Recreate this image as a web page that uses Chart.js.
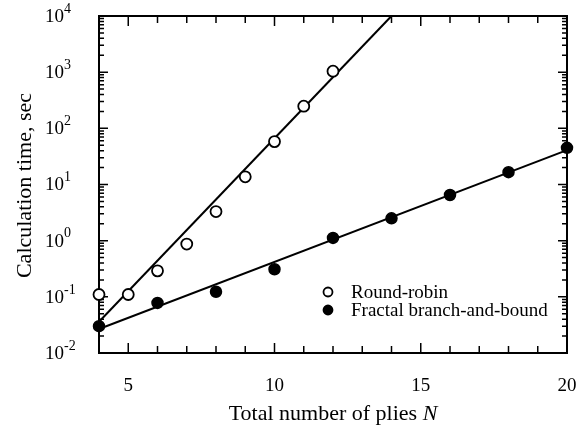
<!DOCTYPE html>
<html><head><meta charset="utf-8">
<script src="https://cdn.jsdelivr.net/npm/chart.js@4.4.0/dist/chart.umd.min.js"></script>
<style>html,body{margin:0;padding:0;background:#fff;}#wrap{width:588px;height:439px;}</style>
</head><body><div id="wrap"><canvas id="c" width="588" height="439"></canvas></div>
<script>
const rrN = [4, 5, 6, 7, 8, 9, 10, 11, 12];
const rrTime = [0.11, 0.11, 0.29, 0.87, 3.3, 13.7, 58, 248, 1040];
const fbN = [4, 6, 8, 10, 12, 14, 16, 18, 20];
const fbTime = [0.030, 0.078, 0.123, 0.31, 1.12, 2.5, 6.5, 16.6, 45];
const rrFitN = [4, 14];
const rrFitTime = [0.036, 10000];
const fbFitN = [4, 20];
const fbFitTime = [0.0267, 41];
const xTickLabels = ['5', '10', '15', '20'];
const yTickExponents = ['-2', '-1', '0', '1', '2', '3', '4'];
const seriesLabels = ['Round-robin', 'Fractal branch-and-bound'];
const xTitle = 'Total number of plies ';
const xTitleVar = 'N';
const yTitle = 'Calculation time, sec';

const FONT = '"Liberation Serif", "Times New Roman", serif';
const pts = (xs, ys) => xs.map((x, i) => ({x: x, y: ys[i]}));

const decorPlugin = {
  id: 'decor',
  beforeDatasetsDraw(chart) {
    const ctx = chart.ctx, a = chart.chartArea;
    const xs = chart.scales.x, ys = chart.scales.y;
    ctx.save();
    ctx.strokeStyle = '#000';
    ctx.lineWidth = 1.5;
    for (let d = -2; d <= 4; d++) {
      const base = Math.pow(10, d);
      const py = ys.getPixelForValue(base);
      ctx.beginPath();
      ctx.moveTo(a.left, py); ctx.lineTo(a.left + 9, py);
      ctx.moveTo(a.right, py); ctx.lineTo(a.right - 9, py);
      ctx.stroke();
      if (d < 4) {
        for (let k = 2; k <= 9; k++) {
          const p = ys.getPixelForValue(k * base);
          ctx.beginPath();
          ctx.moveTo(a.left, p); ctx.lineTo(a.left + 5, p);
          ctx.moveTo(a.right, p); ctx.lineTo(a.right - 5, p);
          ctx.stroke();
        }
      }
    }
    for (let n = Math.ceil(xs.min); n <= xs.max; n++) {
      const px = xs.getPixelForValue(n);
      const len = (n % 5 === 0) ? 10 : 7;
      ctx.beginPath();
      ctx.moveTo(px, a.bottom); ctx.lineTo(px, a.bottom - len);
      ctx.moveTo(px, a.top); ctx.lineTo(px, a.top + len);
      ctx.stroke();
    }
    ctx.lineWidth = 2;
    ctx.strokeRect(a.left, a.top, a.right - a.left, a.bottom - a.top);
    ctx.fillStyle = '#000';
    ctx.textAlign = 'left';
    yTickExponents.forEach(e => {
      const py = ys.getPixelForValue(Math.pow(10, parseInt(e, 10)));
      ctx.font = '19px ' + FONT;
      ctx.textBaseline = 'middle';
      ctx.fillText('10', 45, py + 1);
      const w = ctx.measureText('10').width;
      ctx.font = '14px ' + FONT;
      ctx.fillText(e, 45 + w, py - 7);
    });
    ctx.save();
    ctx.translate(25, (a.top + a.bottom) / 2 + 1);
    ctx.rotate(-Math.PI / 2);
    ctx.font = '22px ' + FONT;
    ctx.textAlign = 'center';
    ctx.textBaseline = 'middle';
    ctx.fillText(yTitle, 0, 0);
    ctx.restore();
    ctx.font = '22px ' + FONT;
    const w1 = ctx.measureText(xTitle).width;
    ctx.font = 'italic 22px ' + FONT;
    const w2 = ctx.measureText(xTitleVar).width;
    const cx = (a.left + a.right) / 2;
    const sx = cx - (w1 + w2) / 2;
    ctx.textBaseline = 'alphabetic';
    ctx.textAlign = 'left';
    ctx.font = '22px ' + FONT;
    ctx.fillText(xTitle, sx, 420);
    ctx.font = 'italic 22px ' + FONT;
    ctx.fillText(xTitleVar, sx + w1, 420);
    const ds = chart.data.datasets;
    [0, 1].forEach(i => {
      const ly = 292 + i * 18;
      ctx.beginPath();
      ctx.arc(328, ly, 4.5, 0, Math.PI * 2);
      ctx.fillStyle = ds[i].pointBackgroundColor;
      ctx.fill();
      ctx.lineWidth = 1.8;
      ctx.strokeStyle = '#000';
      ctx.stroke();
      ctx.fillStyle = '#000';
      ctx.font = '19px ' + FONT;
      ctx.textBaseline = 'middle';
      ctx.fillText(seriesLabels[i], 351, ly + 1);
    });
    ctx.restore();
  }
};

new Chart(document.getElementById('c'), {
  type: 'scatter',
  data: {
    datasets: [
      {label: seriesLabels[0], data: pts(rrN, rrTime), pointRadius: 5.5, pointBorderWidth: 1.8,
       pointBackgroundColor: '#fff', pointBorderColor: '#000', showLine: false, clip: false, order: 0},
      {label: seriesLabels[1], data: pts(fbN, fbTime), pointRadius: 5.5, pointBorderWidth: 1.5,
       pointBackgroundColor: '#000', pointBorderColor: '#000', showLine: false, clip: false, order: 0},
      {label: 'fit1', data: pts(rrFitN, rrFitTime), showLine: true, pointRadius: 0, borderColor: '#000',
       borderWidth: 2, clip: false, order: 1},
      {label: 'fit2', data: pts(fbFitN, fbFitTime), showLine: true, pointRadius: 0, borderColor: '#000',
       borderWidth: 2, clip: false, order: 1}
    ]
  },
  options: {
    responsive: false,
    animation: false,
    devicePixelRatio: 1,
    layout: {padding: {left: 0, right: 21, top: 16, bottom: 0}},
    plugins: {legend: {display: false}, tooltip: {enabled: false}},
    scales: {
      x: {
        type: 'linear', min: 4, max: 20,
        grid: {display: false, drawTicks: false},
        border: {display: false},
        ticks: {stepSize: 1, autoSkip: false, maxRotation: 0, padding: 22, color: '#000',
          font: {family: FONT, size: 19},
          callback: v => xTickLabels.includes(String(v)) ? String(v) : ''},
        afterFit: s => { s.height = 86; s.paddingLeft = 0; s.paddingRight = 0; }
      },
      y: {
        type: 'logarithmic', min: 0.01, max: 10000,
        grid: {display: false, drawTicks: false},
        border: {display: false},
        ticks: {display: false},
        afterFit: s => { s.width = 99; s.paddingTop = 0; s.paddingBottom = 0; }
      }
    }
  },
  plugins: [decorPlugin]
});
</script>
</body></html>
